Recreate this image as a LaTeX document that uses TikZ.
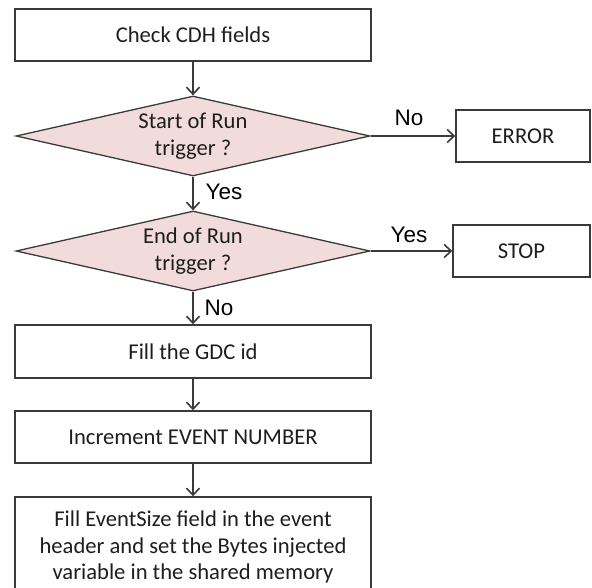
\documentclass[tikz,border=0pt]{standalone}
\usepackage{fontspec}
\setmainfont{Carlito}
\newfontfamily\labelfont{Liberation Sans}
\usetikzlibrary{shapes.geometric,arrows.meta}
\definecolor{linegray}{HTML}{3A3A3A}
\definecolor{decfill}{HTML}{F2DCDB}
\definecolor{txt}{HTML}{1E1E1E}
\begin{document}
\begin{tikzpicture}[x=1pt,y=-1pt,
  font=\fontsize{22.6}{26.7}\selectfont, text=txt,
  procbox/.style={draw=linegray, line width=1.4pt, fill=white, rectangle,
    minimum width=356pt, minimum height=52pt, inner sep=0pt, align=center},
  endbox/.style={procbox, minimum width=135pt},
  decision/.style={draw=linegray, line width=1.3pt, fill=decfill, diamond,
    aspect=4.4, minimum width=354pt, minimum height=80pt, inner sep=0pt,
    align=center},
  flow/.style={draw=linegray, line width=1.4pt,
    -{Straight Barb[length=7pt,width=13pt,line width=1.6pt]}},
  branch/.style={font=\labelfont\fontsize{22.5}{26}\selectfont, text=black}]
\useasboundingbox (0,0) rectangle (592,588);

\node[procbox] (chk) at (193,35) {Check CDH fields};
\node[decision] (d1) at (193,136) {Start of Run\\trigger ?};
\node[endbox, minimum width=134pt] (err) at (523,136) {ERROR};
\node[decision] (d2) at (193,251) {End of Run\\trigger ?};
\node[endbox, minimum width=137pt] (stop) at (521.5,251) {STOP};
\node[procbox, minimum height=53pt] (gdc) at (193,351.5) {Fill the GDC id};
\node[procbox] (inc) at (193,437) {Increment EVENT NUMBER};
\node[procbox, minimum height=100pt] (last) at (193,547)
  {Fill EventSize field in the event\\header and set the Bytes injected\\variable in the shared memory};

\draw[flow] (chk.south) -- (d1.north);
\draw[flow] (d1.south) -- (d2.north);
\draw[flow] (d2.south) -- (gdc.north);
\draw[flow] (gdc.south) -- (inc.north);
\draw[flow] (inc.south) -- (last.north);
\draw[flow] (d1.east) -- (err.west);
\draw[flow] (d2.east) -- (stop.west);

\node[branch] (lno1) at (409,118) {No};
\node[branch] (lyes1) at (224,192) {Yes};
\node[branch] (lyes2) at (409,235) {Yes};
\node[branch] (lno2) at (219,308) {No};
\end{tikzpicture}
\end{document}
